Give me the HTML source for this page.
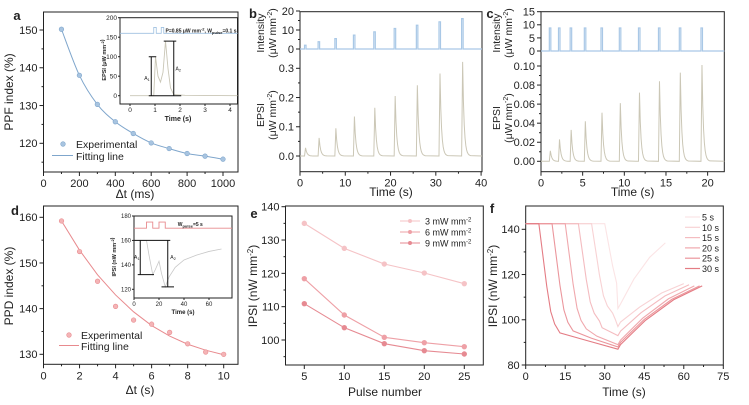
<!DOCTYPE html>
<html><head><meta charset="utf-8"><style>
html,body{margin:0;padding:0;background:#fff;}
svg{display:block;font-family:"Liberation Sans",Arial,sans-serif;}
</style></head><body>
<svg id="fig" width="749" height="405" viewBox="0 0 749 405" xmlns="http://www.w3.org/2000/svg"></svg>
<script>
// ---------- data ----------
const aX = [100,200,300,400,500,600,700,800,900,1000];
const aY = [150.2,138,130.3,125.7,122.6,120.1,118.6,117.3,116.6,115.8];
const bPulseT = [1,4,7.7,11.8,16.3,20.8,25.7,30.7,35.7];
const bPulseH = [2,3.8,5.5,7.3,9,10.8,12.5,14.3,16];
const bPeak = [0.028,0.062,0.095,0.135,0.165,0.205,0.242,0.282,0.322];
const cPulseT = [1,2.1,3.5,5.2,7.2,9.4,11.7,14.1,16.6,19.2];
const cPulseH = [8.8,8.8,8.8,8.8,8.8,8.8,8.8,8.8,8.8,8.8];
const cPeak = [0.011,0.023,0.033,0.042,0.051,0.061,0.072,0.084,0.093,0.101];
const dX = [1,2,3,4,5,6,7,8,9,10];
const dY = [159.2,152.5,146,140.5,137.5,136.6,134.8,132.3,130.5,130];
const dFit = [159.2,152.8,147.4,143,139.3,136.3,134,132.2,130.9,129.9];
const ePulse = [5,10,15,20,25];
const e3 = [135,127.5,122.8,120.1,116.9];
const e6 = [118.4,107.5,100.8,99.2,98];
const e9 = [110.9,103.7,98.9,96.8,95.8];
const fLabels = ['5 s','10 s','15 s','20 s','25 s','30 s'];
const fStart = [30,25,20,15,10,5];
const fMin = [105,97,93,89,88,87];
const fEnd = [53,60,62,64,66,67];
const fEndV = [134,116,115.5,115,115,115];
const aTicksX = [0,200,400,600,800,1000];
const aTicksY = [120,130,140,150];

// ---------- helpers ----------
const NS='http://www.w3.org/2000/svg';
const svg=document.getElementById('fig');
function mk(tag,attrs,name,parent){
  const e=document.createElementNS(NS,tag);
  for(const k in attrs) e.setAttribute(k,attrs[k]);
  
  
  (parent||svg).appendChild(e);
  return e;
}
function txt(x,y,s,name,opt){
  opt=opt||{};
  const t=mk('text',{x:x,y:y,'font-size':opt.fs||11,'text-anchor':opt.anchor||'middle',fill:opt.fill||'#222','font-weight':opt.fw||'normal'},name,opt.parent);
  if(opt.rot!==undefined) t.setAttribute('transform','rotate('+opt.rot+' '+x+' '+y+')');
  t.innerHTML=s;
  return t;
}
function lin(d0,d1,r0,r1){return v=>r0+(v-d0)*(r1-r0)/(d1-d0);}
function box(x0,y0,x1,y1,name){mk('rect',{x:x0,y:y0,width:x1-x0,height:y1-y0,fill:'none',stroke:'#222','stroke-width':1},name);}
function xTicks(sx,yb,vals,minor,name,fs){
  vals.forEach(v=>{mk('line',{x1:sx(v),x2:sx(v),y1:yb,y2:yb+4,stroke:'#222'},name+'-tick');
    txt(sx(v),yb+(fs?fs+4:14),String(v),name+'-label',{fs:fs||11});});
  (minor||[]).forEach(v=>mk('line',{x1:sx(v),x2:sx(v),y1:yb,y2:yb+2,stroke:'#222'},name+'-minor'));
}
function yTicks(sy,xl,vals,minor,name,fs,fmt){
  vals.forEach(v=>{mk('line',{x1:xl-4,x2:xl,y1:sy(v),y2:sy(v),stroke:'#222'},name+'-tick');
    txt(xl-6,sy(v)+(fs?fs/2.8:4),fmt?fmt(v):String(v),name+'-label',{fs:fs||11,anchor:'end'});});
  (minor||[]).forEach(v=>mk('line',{x1:xl-2,x2:xl,y1:sy(v),y2:sy(v),stroke:'#222'},name+'-minor'));
}
function pathD(pts){return pts.map((p,i)=>(i?'L':'M')+p[0].toFixed(2)+' '+p[1].toFixed(2)).join(' ');}

// ---------- panel a ----------
(function(){
  const sx=lin(0,1000,43.5,223), sy=lin(120,150,143.3,30);
  box(43.5,12,238,172,'panel-a-frame');
  xTicks(sx,172,aTicksX,[100,300,500,700,900],'a-x',11);
  yTicks(sy,43.5,aTicksY,[115,125,135,145],'a-y',11);
  const pts=aX.map((x,i)=>[sx(x),sy(aY[i])]);
  let d='M'+pts[0][0]+' '+pts[0][1];
  for(let i=1;i<pts.length;i++){const p0=pts[Math.max(0,i-2)],p1=pts[i-1],p2=pts[i],p3=pts[Math.min(pts.length-1,i+1)];
    d+=' C'+(p1[0]+(p2[0]-p0[0])/6)+' '+(p1[1]+(p2[1]-p0[1])/6)+' '+(p2[0]-(p3[0]-p1[0])/6)+' '+(p2[1]-(p3[1]-p1[1])/6)+' '+p2[0]+' '+p2[1];}
  mk('path',{d:d,fill:'none',stroke:'#7fa6cc','stroke-width':1},'a-fitting-line');
  pts.forEach(p=>mk('circle',{cx:p[0],cy:p[1],r:2.3,fill:'#a8c4e0',stroke:'#7fa6cc','stroke-width':0.6},'a-data-point'));
  mk('circle',{cx:63,cy:144,r:2.3,fill:'#a8c4e0',stroke:'#7fa6cc','stroke-width':0.6},'a-legend-marker');
  txt(76,148,'Experimental','a-legend-experimental',{anchor:'start',fs:10.5});
  mk('line',{x1:52,x2:73,y1:155.5,y2:155.5,stroke:'#7fa6cc'},'a-legend-line');
  txt(76,160,'Fitting line','a-legend-fit',{anchor:'start',fs:10.5});
  txt(13,92,'PPF index (%)','a-y-title',{rot:-90,fs:12});
  txt(135,198,'Δt (ms)','a-x-title',{fs:12});
  txt(17,20,'a','panel-a-letter',{fs:13,fw:'bold'});
  const ix=lin(0,4,130,230), iy=lin(0,200,95.7,17.7);
  mk('rect',{x:120,y:17.7,width:117.5,height:86.3,fill:'#fff',stroke:'#222'},'a-inset-frame');
  [0,1,2,3,4].forEach(v=>{mk('line',{x1:ix(v),x2:ix(v),y1:104,y2:106,stroke:'#222'},'a-inset-x-tick');txt(ix(v),112,String(v),'a-inset-x-label',{fs:6.5});});
  [0,50,100,150,200].forEach(v=>{mk('line',{x1:118,x2:120,y1:iy(v),y2:iy(v),stroke:'#222'},'a-inset-y-tick');txt(117,iy(v)+2.3,String(v),'a-inset-y-label',{fs:6.5,anchor:'end'});});
  txt(178,121,'Time (s)','a-inset-x-title',{fs:7,fw:'bold'});
  txt(106,60,'EPSI (μW mm<tspan dy="-2" font-size="4">-2</tspan>)','a-inset-y-title',{fs:5.5,rot:-90,fw:'bold'});
  mk('path',{d:'M120 '+iy(160)+' H'+ix(0.95)+' V'+iy(175)+' H'+ix(1.05)+' V'+iy(160)+' H'+ix(1.25)+' V'+iy(175)+' H'+ix(1.35)+' V'+iy(160)+' H237.5',fill:'none',stroke:'#9fc0e0','stroke-width':0.8},'a-inset-pulse-line');
  txt(ix(1.42),iy(162),'P=0.85 μW mm<tspan dy="-2" font-size="4">-2</tspan><tspan dy="2">, W</tspan><tspan dy="1.5" font-size="4">pulse</tspan><tspan dy="-1.5">=0.1 s</tspan>','a-inset-note',{fs:5,anchor:'start',fw:'bold'});
  const ep=[[0,0],[0.95,0],[1.02,100],[1.12,50],[1.22,35],[1.32,60],[1.42,140],[1.52,70],[1.62,20],[1.75,3],[2.2,1],[4.3,0]];
  mk('path',{d:pathD(ep.map(p=>[ix(p[0]),iy(p[1])])),fill:'none',stroke:'#c9c6b6','stroke-width':0.9},'a-inset-epsi-curve');
  mk('path',{d:'M'+ix(0.75)+' '+iy(100)+' H'+ix(1.05)+' M'+ix(0.85)+' '+iy(100)+' V'+iy(0)+' M'+ix(0.75)+' '+iy(0)+' H'+ix(2.05)+' M'+ix(1.35)+' '+iy(140)+' H'+ix(1.85)+' M'+ix(1.75)+' '+iy(140)+' V'+iy(0),fill:'none',stroke:'#111','stroke-width':1},'a-inset-brackets');
  txt(ix(0.68),iy(40),'A<tspan font-size="4" dy="1">1</tspan>','a-inset-a1',{fs:5});
  txt(ix(1.93),iy(65),'A<tspan font-size="4" dy="1">2</tspan>','a-inset-a2',{fs:5});
})();

// ---------- panel b / c ----------
function spikePanel(P){
  const sx=lin(0,P.xmax,P.x0,P.x1);
  const syI=lin(0,P.imax,P.iy0,P.iyTop), syE=lin(0,P.etick,P.ey0,P.eyTick);
  box(P.x0,11.7,P.x1,171.7,P.id+'-frame');
  xTicks(sx,171.7,P.xt,P.xm,P.id+'-x',11);
  yTicks(syI,P.x0,P.it,P.im,P.id+'-int-y',11);
  yTicks(syE,P.x0,P.et,P.em,P.id+'-epsi-y',11,P.fmt);
  let d='M'+P.x0+' '+syI(0);
  P.pt.forEach((t,i)=>{d+=' H'+sx(t)+' V'+syI(P.ph[i])+' H'+(sx(t)+1.5)+' V'+syI(0);});
  d+=' H'+P.x1;
  mk('path',{d:d,fill:'none',stroke:'#a9c8e6','stroke-width':1.2},P.id+'-intensity-pulses');
  const pts2=[[P.x0,syE(0)]];
  P.pt.forEach((t,i)=>{const x=sx(t),pk=P.pk[i],nx=i+1<P.pt.length?sx(P.pt[i+1]):P.x1;pts2.push([x,syE(0)]);pts2.push([x+1,syE(pk)]);
    for(let k=1;k<=10;k++){const xx=x+1+k*0.8;if(xx<nx)pts2.push([xx,syE(pk*Math.exp(-k*0.55))]);}});
  pts2.push([P.x1,syE(0)]);
  mk('path',{d:pathD(pts2),fill:'none',stroke:'#cbc7b6','stroke-width':1},P.id+'-epsi-trace');
  txt(P.tx,P.iTitleY,'Intensity',P.id+'-int-title',{rot:-90,fs:10.5});
  txt(P.tx+12,P.iTitleY,'(μW mm<tspan dy="-4" font-size="7">-2</tspan><tspan dy="4">)</tspan>',P.id+'-int-unit',{rot:-90,fs:10.5});
  txt(P.tx,P.eTitleY,'EPSI',P.id+'-epsi-title',{rot:-90,fs:10.5});
  txt(P.tx+12,P.eTitleY,'(μW mm<tspan dy="-4" font-size="7">-2</tspan><tspan dy="4">)</tspan>',P.id+'-epsi-unit',{rot:-90,fs:10.5});
  txt((P.x0+P.x1)/2,196,'Time (s)',P.id+'-x-title',{fs:12});
  txt(P.lx,18,P.id.slice(-1),P.id+'-letter',{fs:13,fw:'bold'});
}
spikePanel({id:'panel-b',x0:300,x1:482,xmax:40.2,imax:20,iy0:49,iyTop:11,etick:0.3,ey0:156,eyTick:68.3,
  xt:[0,10,20,30,40],xm:[5,15,25,35],it:[0,10,20],im:[5,15],et:[0,0.1,0.2,0.3],em:[0.05,0.15,0.25],fmt:v=>v.toFixed(1),
  pt:bPulseT,ph:bPulseH,pk:bPeak,tx:264,iTitleY:33,eTitleY:115,lx:253});
spikePanel({id:'panel-c',x0:541,x1:724.3,xmax:22,imax:15,iy0:51,iyTop:11.7,etick:0.1,ey0:161.3,eyTick:66,
  xt:[0,5,10,15,20],xm:[2.5,7.5,12.5,17.5],it:[0,5,10,15],im:[],et:[0,0.02,0.04,0.06,0.08,0.1],em:[0.01,0.03,0.05,0.07,0.09],fmt:v=>v.toFixed(2),
  pt:cPulseT,ph:cPulseH,pk:cPeak,tx:500,iTitleY:33,eTitleY:118,lx:490});

// ---------- panel d ----------
(function(){
  const sx=lin(0,10,43.5,223.7), sy=lin(130,160,354.3,217.3);
  box(43.5,206,238,364.3,'panel-d-frame');
  xTicks(sx,364.3,[0,2,4,6,8,10],[1,3,5,7,9],'d-x',11);
  yTicks(sy,43.5,[130,140,150,160],[135,145,155],'d-y',11);
  const pts=dX.map((x,i)=>[sx(x),sy(dY[i])]);
  const sm=dX.map((x,i)=>[sx(x),sy(dFit[i])]);
  mk('path',{d:pathD(sm),fill:'none',stroke:'#e88a8e','stroke-width':1},'d-fitting-line');
  pts.forEach(p=>mk('circle',{cx:p[0],cy:p[1],r:2.3,fill:'#f4b4b6',stroke:'#e88a8e','stroke-width':0.6},'d-data-point'));
  mk('circle',{cx:69,cy:335,r:2.3,fill:'#f4b4b6',stroke:'#e88a8e','stroke-width':0.6},'d-legend-marker');
  txt(81,339,'Experimental','d-legend-experimental',{anchor:'start',fs:10.5});
  mk('line',{x1:59,x2:79,y1:345.5,y2:345.5,stroke:'#e88a8e'},'d-legend-line');
  txt(81,350,'Fitting line','d-legend-fit',{anchor:'start',fs:10.5});
  txt(13,286,'PPD index (%)','d-y-title',{rot:-90,fs:12});
  txt(140,394,'Δt (s)','d-x-title',{fs:12});
  txt(15,215,'d','panel-d-letter',{fs:13,fw:'bold'});
  const ix=lin(0,60,134,209), iy=lin(120,180,289.3,216);
  mk('rect',{x:134,y:216,width:98,height:82,fill:'#fff',stroke:'#222'},'d-inset-frame');
  [0,20,40,60].forEach(v=>{mk('line',{x1:ix(v),x2:ix(v),y1:298,y2:300,stroke:'#222'},'d-inset-x-tick');txt(ix(v),306,String(v),'d-inset-x-label',{fs:6});});
  [120,140,160,180].forEach(v=>{mk('line',{x1:132,x2:134,y1:iy(v),y2:iy(v),stroke:'#222'},'d-inset-y-tick');txt(131,iy(v)+2,String(v),'d-inset-y-label',{fs:6,anchor:'end'});});
  txt(183,314,'Time (s)','d-inset-x-title',{fs:6,fw:'bold'});
  txt(116,257,'IPSI (nW mm<tspan dy="-2" font-size="4">-2</tspan>)','d-inset-y-title',{fs:5.5,rot:-90,fw:'bold'});
  mk('path',{d:'M134 '+iy(170)+' H'+ix(10)+' V'+iy(175)+' H'+ix(15)+' V'+iy(170)+' H'+ix(20)+' V'+iy(175)+' H'+ix(25)+' V'+iy(170)+' H232',fill:'none',stroke:'#e88a8e','stroke-width':0.9},'d-inset-pulse-line');
  txt(ix(35),iy(172),'W<tspan dy="1.5" font-size="4">pulse</tspan><tspan dy="-1.5">=5 s</tspan>','d-inset-note',{fs:5,anchor:'start',fw:'bold'});
  const ip=[[0,160],[10,160],[12,148],[15,132],[17,136],[20,143],[22,133],[25,122],[28,130],[33,138],[40,144],[50,148],[60,151],[70,153]];
  mk('path',{d:pathD(ip.map(p=>[ix(p[0]),iy(p[1])])),fill:'none',stroke:'#c8c8c8','stroke-width':0.8},'d-inset-ipsi-curve');
  mk('path',{d:'M'+ix(0)+' '+iy(160)+' H'+ix(29)+' M'+ix(5)+' '+iy(160)+' V'+iy(132)+' M'+ix(3)+' '+iy(132)+' H'+ix(16)+' M'+ix(27)+' '+iy(160)+' V'+iy(122)+' M'+ix(22)+' '+iy(122)+' H'+ix(32),fill:'none',stroke:'#111','stroke-width':1},'d-inset-brackets');
  txt(ix(0),iy(145),'A<tspan font-size="4" dy="1">1</tspan>','d-inset-a1',{fs:5,anchor:'start'});
  txt(ix(29),iy(145),'A<tspan font-size="4" dy="1">2</tspan>','d-inset-a2',{fs:5,anchor:'start'});
})();

// ---------- panel e ----------
(function(){
  const sx=lin(5,25,304.3,464.3), sy=lin(100,140,340,206.7);
  box(285.5,206,483.3,365,'panel-e-frame');
  xTicks(sx,365,ePulse,[],'e-x',11);
  yTicks(sy,285.5,[100,110,120,130,140],[95,105,115,125,135],'e-y',11);
  const series=[[e3,'#f5c3c6','3mW'],[e6,'#eea0a6','6mW'],[e9,'#e68a92','9mW']];
  series.forEach((s,si)=>{
    const pts=ePulse.map((x,i)=>[sx(x),sy(s[0][i])]);
    mk('path',{d:pathD(pts),fill:'none',stroke:s[1],'stroke-width':1.1},'e-line-'+s[2]);
    pts.forEach(p=>mk('circle',{cx:p[0],cy:p[1],r:2.2,fill:s[1],stroke:s[1]},'e-point-'+s[2]));
    const ly=221+si*11;
    mk('line',{x1:400,x2:420,y1:ly,y2:ly,stroke:s[1],'stroke-width':1.1},'e-legend-line-'+s[2]);
    mk('circle',{cx:410,cy:ly,r:2,fill:s[1]},'e-legend-marker-'+s[2]);
    txt(425,ly+3.5,(3*(si+1))+' mW mm<tspan dy="-3" font-size="6">-2</tspan>','e-legend-'+s[2],{anchor:'start',fs:9});
  });
  txt(257,286,'IPSI (nW mm<tspan dy="-4" font-size="8">-2</tspan><tspan dy="4">)</tspan>','e-y-title',{rot:-90,fs:12});
  txt(385,396,'Pulse number','e-x-title',{fs:12});
  txt(254,218,'e','panel-e-letter',{fs:13,fw:'bold'});
})();

// ---------- panel f ----------
(function(){
  const sx=lin(0,75,525.7,723.3), sy=lin(80,140,365,229.3);
  box(525.7,206,723.3,365,'panel-f-frame');
  xTicks(sx,365,[0,15,30,45,60,75],[7.5,22.5,37.5,52.5,67.5],'f-x',11);
  yTicks(sy,525.7,[80,100,120,140],[90,110,130],'f-y',11);
  const cols=['#fbe4e5','#f8d2d4','#f4bcc0','#f0a8ad','#eb969c','#e47c84'];
  fLabels.forEach((lab,i)=>{
    const s=fStart[i],m=fMin[i],dur=35-s;
    const drop=142.5-m;
    const pts=[[0,142.5],[s,142.5]];
    const fr=[0.25,0.5,0.7,0.8,0.87];
    const tt=[1.5,3,4.5,6,8];
    tt.forEach((t,k)=>{if(t<dur)pts.push([s+t,142.5-drop*fr[k]]);});
    if(dur>9)pts.push([s+dur*0.6>s+8?s+dur*0.6:s+9,142.5-drop*0.93]);
    pts.push([35,m]);
    const ev=fEndV[i],ee=fEnd[i];
    pts.push([36,m+2]);pts.push([36+(ee-36)*0.3,m+(ev-m)*0.45]);pts.push([36+(ee-36)*0.65,m+(ev-m)*0.78]);pts.push([ee,ev]);
    pts.sort((a,b)=>a[0]-b[0]);
    mk('path',{d:pathD(pts.map(p=>[sx(p[0]),sy(p[1])])),fill:'none',stroke:cols[i],'stroke-width':1.1},'f-curve-'+lab.replace(' ',''));
    const ly=217+i*10.3;
    mk('line',{x1:685,x2:700,y1:ly,y2:ly,stroke:cols[i],'stroke-width':1.2},'f-legend-line-'+lab.replace(' ',''));
    txt(702,ly+3.5,lab,'f-legend-'+lab.replace(' ',''),{anchor:'start',fs:9});
  });
  txt(497,286,'IPSI (nW mm<tspan dy="-4" font-size="8">-2</tspan><tspan dy="4">)</tspan>','f-y-title',{rot:-90,fs:12});
  txt(624,396,'Time (s)','f-x-title',{fs:12});
  txt(492,213,'f','panel-f-letter',{fs:13,fw:'bold'});
})();
</script>
</body></html>
